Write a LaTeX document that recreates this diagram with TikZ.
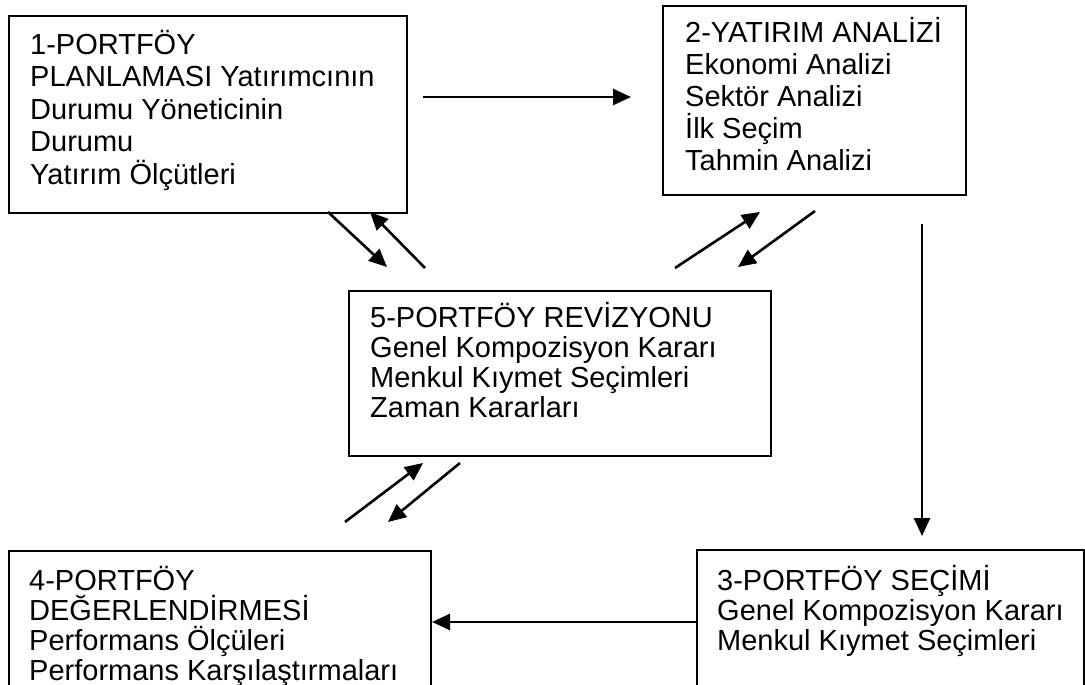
\documentclass[tikz,border=0pt]{standalone}
\usepackage{fontspec}
\setmainfont{Liberation Sans}
\usetikzlibrary{arrows.meta}
\begin{document}
\begin{tikzpicture}[x=1pt,y=-1pt,
  box/.style={draw=black,line width=2pt,rectangle,inner sep=0pt,anchor=north west},
  label/.style={anchor=base west,inner sep=0pt,align=left},
  flow/.style={line width=2.6pt,-{Triangle[length=18pt,width=16pt]}}]
\useasboundingbox (0,0) rectangle (1085,685);
\clip (0,0) rectangle (1085,685);
\fill[white] (0,0) rectangle (1085,685);

% process boxes
\node[box,minimum width=398pt,minimum height=197pt] (b1) at (8,15) {};
\node[box,minimum width=303pt,minimum height=189pt] (b2) at (662,5) {};
\node[box,minimum width=422pt,minimum height=165pt] (b5) at (348,290) {};
\node[box,minimum width=387pt,minimum height=200pt] (b3) at (696,549) {};
\node[box,minimum width=422pt,minimum height=200pt] (b4) at (8,550) {};

% box texts (placed by the baseline of their last line)
\node[label,font=\fontsize{29}{32.5}\selectfont] (t1) at (30,184)
  {1-PORTFÖY\\PLANLAMASI Yatırımcının\\Durumu Yöneticinin\\Durumu\\Yatırım Ölçütleri};
\node[label,font=\fontsize{29}{32}\selectfont] (t2) at (685,170)
  {2-YATIRIM ANALİZİ\\Ekonomi Analizi\\Sektör Analizi\\İlk Seçim\\Tahmin Analizi};
\node[label,font=\fontsize{29}{30}\selectfont] (t5) at (370,417)
  {5-PORTFÖY REVİZYONU\\Genel Kompozisyon Kararı\\Menkul Kıymet Seçimleri\\Zaman Kararları};
\node[label,font=\fontsize{29}{30}\selectfont] (t3) at (717,650)
  {3-PORTFÖY SEÇİMİ\\Genel Kompozisyon Kararı\\Menkul Kıymet Seçimleri};
\node[label,font=\fontsize{29}{30}\selectfont] (t4) at (29,680)
  {4-PORTFÖY\\DEĞERLENDİRMESİ\\Performans Ölçüleri\\Performans Karşılaştırmaları};

% connector end points
\coordinate (a12s) at (423,97);  \coordinate (a12e) at (631,97);
\coordinate (a23s) at (922,224); \coordinate (a23e) at (922,536);
\coordinate (a34s) at (b3.west |- 0,622); \coordinate (a34e) at (b4.east |- 0,622);
\coordinate (a15s) at (328,212); \coordinate (a15e) at (387,267);
\coordinate (a51s) at (425,268); \coordinate (a51e) at (370,212);
\coordinate (a52s) at (675,268); \coordinate (a52e) at (760,212);
\coordinate (a25s) at (815,211); \coordinate (a25e) at (738,267);
\coordinate (a45s) at (345,522); \coordinate (a45e) at (423,463);
\coordinate (a54s) at (460,463); \coordinate (a54e) at (388,522);

% connectors
\draw[flow] (a12s) -- (a12e);
\draw[flow] (a23s) -- (a23e);
\draw[flow] (a34s) -- (a34e);
\draw[flow] (a15s) -- (a15e);
\draw[flow] (a51s) -- (a51e);
\draw[flow] (a52s) -- (a52e);
\draw[flow] (a25s) -- (a25e);
\draw[flow] (a45s) -- (a45e);
\draw[flow] (a54s) -- (a54e);
\end{tikzpicture}
\end{document}
